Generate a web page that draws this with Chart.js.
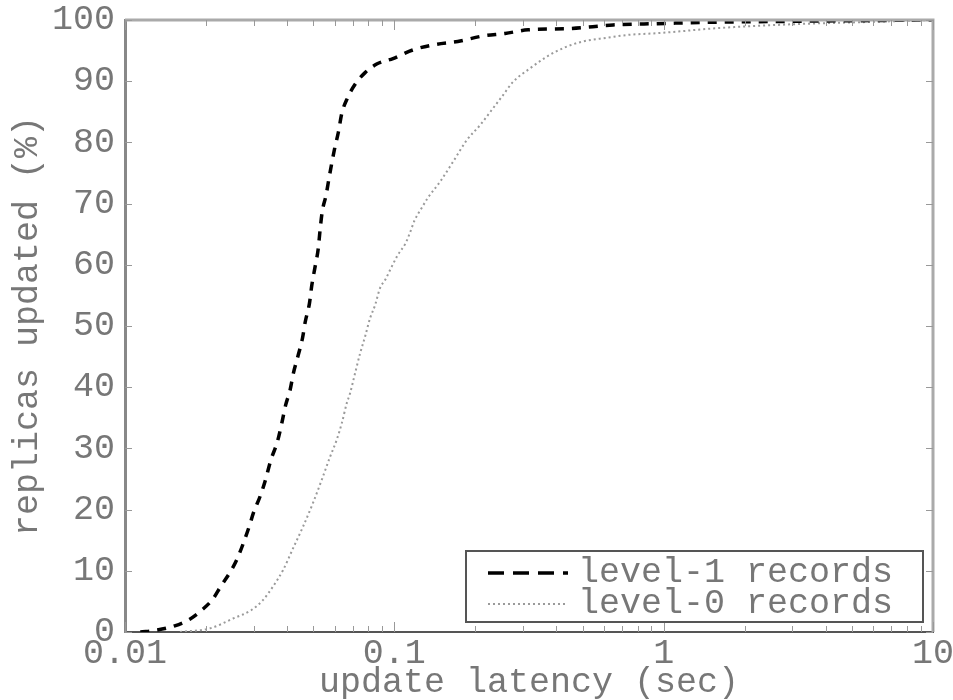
<!DOCTYPE html>
<html>
<head>
<meta charset="utf-8">
<script src="https://cdn.jsdelivr.net/npm/chart.js@4"></script>
<style>
  html, body { margin: 0; padding: 0; background: #fff; }
  #wrap { width: 953px; height: 700px; }
</style>
</head>
<body>
<div id="wrap"><canvas id="myChart" width="953" height="700"></canvas></div>
<script>
// latency (sec) / % of replicas updated, one pair of arrays per record level
const level1Latency = [0.0114, 0.0131, 0.0153, 0.0174, 0.0193, 0.0212, 0.0227, 0.0245, 0.0260, 0.0275,
  0.0289, 0.0300, 0.0317, 0.0331, 0.0348, 0.0368, 0.0382, 0.0395, 0.0410, 0.0422,
  0.0440, 0.0456, 0.0467, 0.0484, 0.0494, 0.0508, 0.0522, 0.0530, 0.0540, 0.0558,
  0.0574, 0.0599, 0.0620, 0.0638, 0.0669, 0.0715, 0.0779, 0.0860, 0.0989, 0.117,
  0.142, 0.172, 0.214, 0.258, 0.314, 0.449, 0.649, 0.945, 1.37, 3.2, 10];
const level1Pct = [0, 0.3, 1.0, 2.1, 3.6, 5.4, 7.5, 9.7, 11.8, 14.5,
  17.2, 19.5, 22.1, 24.6, 28.1, 31.1, 34.1, 37.1, 39.5, 42.3,
  45.3, 48, 50.7, 53.7, 56.7, 59.7, 62.7, 65.7, 68.7, 71.4,
  74.5, 78.8, 81.7, 84.7, 87.2, 89.5, 91.4, 92.8, 93.7, 95.1,
  96.0, 96.5, 97.4, 97.8, 98.4, 98.6, 99.2, 99.4, 99.6, 99.8, 100];

const level0Latency = [0.0160, 0.0207, 0.0252, 0.0295, 0.0325, 0.0354, 0.0386, 0.0421, 0.0458, 0.0499,
  0.0537, 0.0577, 0.0611, 0.0638, 0.0666, 0.0685, 0.0715, 0.0746, 0.0779, 0.0813,
  0.0848, 0.0885, 0.0924, 0.0978, 0.103, 0.110, 0.114, 0.119, 0.126, 0.133,
  0.148, 0.165, 0.186, 0.208, 0.230, 0.253, 0.276, 0.319, 0.368, 0.423,
  0.502, 0.616, 0.750, 0.913, 1.12, 1.5, 3, 6, 10];
const level0Pct = [0, 0.6, 2.2, 3.6, 5.2, 7.4, 10.1, 13.7, 17.2, 21.1,
  24.8, 28.6, 31.4, 34.1, 37.4, 39.0, 42.3, 45.5, 48.3, 51.3,
  53.4, 56.2, 57.5, 59.7, 61.6, 63.5, 65.1, 67.3, 69.2, 70.9,
  73.6, 76.8, 80.4, 82.8, 85.3, 87.7, 89.9, 92.1, 94.0, 95.4,
  96.5, 97.1, 97.6, 97.8, 98.1, 98.6, 99.3, 99.7, 100];

const xTickValues = [0.01, 0.1, 1, 10];
const yTickValues = [0, 10, 20, 30, 40, 50, 60, 70, 80, 90, 100];

const FONT = { family: '"Liberation Mono", "DejaVu Sans Mono", monospace', size: 35, lineHeight: 1 };
const TEXT = '#777';

const toPoints = (xs, ys) => xs.map((x, i) => ({ x: x, y: ys[i] }));

// DATA
const data = {
  datasets: [{
    label: 'level-1 records',
    data: toPoints(level1Latency, level1Pct),
    borderColor: '#000',
    borderWidth: 3.5,
    borderDash: [9, 8],
  }, {
    label: 'level-0 records',
    data: toPoints(level0Latency, level0Pct),
    borderColor: '#9a9a9a',
    borderWidth: 2,
    borderDash: [2, 3],
  }]
};

// frame, inward tick marks and the boxed legend
const framePlugin = {
  id: 'frame',
  afterDatasetsDraw(chart) {
    const ctx = chart.ctx;
    const { left, right, top, bottom } = chart.chartArea;
    const xs = chart.scales.x;
    const ys = chart.scales.y;
    ctx.save();

    // top and right edges
    ctx.strokeStyle = '#aaa';
    ctx.lineWidth = 3;
    ctx.beginPath();
    ctx.moveTo(left, top);
    ctx.lineTo(right, top);
    ctx.lineTo(right, bottom);
    ctx.stroke();

    // log ticks on bottom and top
    ctx.strokeStyle = '#999';
    ctx.lineWidth = 1;
    ctx.beginPath();
    xTickValues.slice(0, -1).forEach(dec => {
      for (let k = 1; k <= 10; k++) {
        const px = Math.round(xs.getPixelForValue(dec * k)) + 0.5;
        const len = (k === 1 || k === 10) ? 10 : 6;
        ctx.moveTo(px, bottom);
        ctx.lineTo(px, bottom - len);
        ctx.moveTo(px, top);
        ctx.lineTo(px, top + len);
      }
    });
    // percent ticks on left and right
    yTickValues.forEach(v => {
      const py = Math.round(ys.getPixelForValue(v)) + 0.5;
      ctx.moveTo(left, py);
      ctx.lineTo(left + 7, py);
      ctx.moveTo(right, py);
      ctx.lineTo(right - 7, py);
    });
    ctx.stroke();

    // legend
    const boxW = 457, boxH = 71;
    const bx = right - 10 - boxW;
    const by = bottom - 10 - boxH;
    ctx.fillStyle = '#fff';
    ctx.fillRect(bx, by, boxW, boxH);
    ctx.strokeStyle = '#555';
    ctx.lineWidth = 2;
    ctx.strokeRect(bx, by, boxW, boxH);

    ctx.font = FONT.size + 'px ' + FONT.family;
    ctx.textBaseline = 'middle';
    ctx.textAlign = 'left';
    const rows = [by + 22, by + 53];
    chart.data.datasets.forEach((ds, i) => {
      const ry = rows[i];
      ctx.strokeStyle = ds.borderColor;
      ctx.lineWidth = ds.borderWidth;
      ctx.setLineDash(i === 0 ? [16, 9] : ds.borderDash);
      ctx.beginPath();
      ctx.moveTo(bx + 22, ry);
      ctx.lineTo(bx + 102, ry);
      ctx.stroke();
      ctx.setLineDash([]);
      ctx.fillStyle = TEXT;
      ctx.fillText(ds.label, bx + 112, ry);
    });
    ctx.restore();
  }
};

// CONFIG
const config = {
  type: 'line',
  data,
  options: {
    responsive: false,
    animation: false,
    layout: { padding: { top: 20, right: 20, left: 0, bottom: 0 } },
    elements: {
      point: { radius: 0 },
      line: { cubicInterpolationMode: 'monotone', fill: false }
    },
    plugins: {
      legend: { display: false },
      tooltip: { enabled: false }
    },
    scales: {
      x: {
        type: 'logarithmic',
        min: 0.01,
        max: 10,
        afterBuildTicks: (scale) => { scale.ticks = xTickValues.map(v => ({ value: v })); },
        afterFit: (scale) => {
          scale.height = 68;
          scale.paddingLeft = 0;
          scale.paddingRight = 0;
        },
        grid: { display: false, drawTicks: false },
        border: { display: true, color: '#555', width: 2 },
        ticks: {
          autoSkip: false,
          maxRotation: 0,
          padding: 4,
          color: TEXT,
          font: FONT,
          callback: (v) => String(v)
        },
        title: {
          display: true,
          text: 'update latency (sec)',
          color: TEXT,
          font: FONT,
          padding: 0
        }
      },
      y: {
        min: 0,
        max: 100,
        afterFit: (scale) => {
          scale.width = 125;
          scale.paddingTop = 0;
          scale.paddingBottom = 0;
        },
        grid: { display: false, drawTicks: false },
        border: { display: true, color: '#888', width: 3 },
        ticks: {
          stepSize: 10,
          padding: 10,
          color: TEXT,
          font: FONT
        },
        title: {
          display: true,
          text: 'replicas updated (%)',
          color: TEXT,
          font: FONT,
          padding: { top: 10, bottom: 0 }
        }
      }
    }
  },
  plugins: [framePlugin]
};

// CHART
const myChart = new Chart(
  document.getElementById('myChart'),
  config
);
</script>
</body>
</html>
